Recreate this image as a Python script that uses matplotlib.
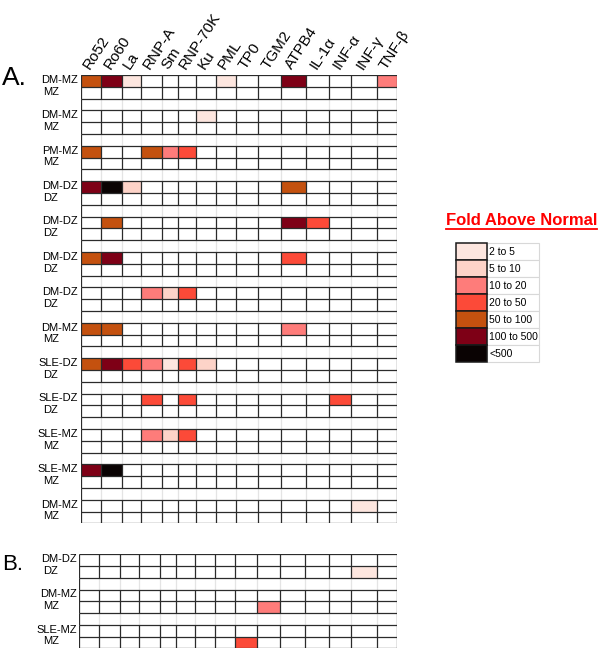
import matplotlib
matplotlib.use("Agg")
import matplotlib.pyplot as plt
import numpy as np
from matplotlib.colors import ListedColormap, BoundaryNorm
from matplotlib.patches import Rectangle
from matplotlib.lines import Line2D
import matplotlib.transforms as mtransforms

plt.rcParams['font.family'] = ['Liberation Sans', 'DejaVu Sans']

# ---------------- data ----------------
antigens = ["Ro52", "Ro60", "La", "RNP-A", "Sm", "RNP-70K", "Ku", "PML", "TP0",
            "TGM2", "ATPB4", "IL-1α", "INF-α", "INF-γ", "TNF-β"]

fold_labels = ["2 to 5", "5 to 10", "10 to 20", "20 to 50", "50 to 100", "100 to 500", "<500"]
fold_colors = ["#fde6df", "#fdd3c8", "#fe7c7a", "#fc4a38", "#c4510f", "#7e0016", "#0a0303"]

# fold level per antigen: 0 = none, 1 = "2 to 5", ... 7 = "<500"
groups_a = [("DM-MZ", "MZ"), ("DM-MZ", "MZ"), ("PM-MZ", "MZ"), ("DM-DZ", "DZ"),
            ("DM-DZ", "DZ"), ("DM-DZ", "DZ"), ("DM-DZ", "DZ"), ("DM-MZ", "MZ"),
            ("SLE-DZ", "DZ"), ("SLE-DZ", "DZ"), ("SLE-MZ", "MZ"), ("SLE-MZ", "MZ"),
            ("DM-MZ", "MZ")]
a_patient = [
    [5, 6, 1, 0, 0, 0, 0, 1, 0, 0, 6, 0, 0, 0, 3],
    [0, 0, 0, 0, 0, 0, 1, 0, 0, 0, 0, 0, 0, 0, 0],
    [5, 0, 0, 5, 3, 4, 0, 0, 0, 0, 0, 0, 0, 0, 0],
    [6, 7, 2, 0, 0, 0, 0, 0, 0, 0, 5, 0, 0, 0, 0],
    [0, 5, 0, 0, 0, 0, 0, 0, 0, 0, 6, 4, 0, 0, 0],
    [5, 6, 0, 0, 0, 0, 0, 0, 0, 0, 4, 0, 0, 0, 0],
    [0, 0, 0, 3, 2, 4, 0, 0, 0, 0, 0, 0, 0, 0, 0],
    [5, 5, 0, 0, 0, 0, 0, 0, 0, 0, 3, 0, 0, 0, 0],
    [5, 6, 4, 3, 1, 4, 2, 0, 0, 0, 0, 0, 0, 0, 0],
    [0, 0, 0, 4, 0, 4, 0, 0, 0, 0, 0, 0, 4, 0, 0],
    [0, 0, 0, 3, 2, 4, 0, 0, 0, 0, 0, 0, 0, 0, 0],
    [6, 7, 0, 0, 0, 0, 0, 0, 0, 0, 0, 0, 0, 0, 0],
    [0, 0, 0, 0, 0, 0, 0, 0, 0, 0, 0, 0, 0, 1, 0],
]
a_control = [[0] * 15 for _ in range(13)]

groups_b = [("DM-DZ", "DZ"), ("DM-MZ", "MZ"), ("SLE-MZ", "MZ")]
b_patient = [[0] * 15 for _ in range(3)]
b_control = [
    [0, 0, 0, 0, 0, 0, 0, 0, 0, 0, 0, 0, 0, 1, 0],
    [0, 0, 0, 0, 0, 0, 0, 0, 0, 3, 0, 0, 0, 0, 0],
    [0, 0, 0, 0, 0, 0, 0, 0, 4, 0, 0, 0, 0, 0, 0],
]

# ---------------- layout ----------------
W, H = 600, 649
DPI = 100
col_widths = [20, 20.7, 19, 21, 16, 18.3, 20, 20, 21.7, 23.3, 24.7, 23.6, 21.7, 25.7, 20]
DARK = "#2b2b2b"
LIGHT = "#e4e4e4"
LW = 0.9

cmap = ListedColormap(["white"] + fold_colors)
norm = BoundaryNorm(np.arange(-0.5, len(fold_colors) + 1.5), cmap.N)

fig = plt.figure(figsize=(W / DPI, H / DPI), dpi=DPI)


def px_axes(left, top, right, bottom):
    return fig.add_axes([left / W, 1 - bottom / H, (right - left) / W, (bottom - top) / H])


def draw_panel(ax, groups, patient, control, lab1_dx, lab2_dx, headers):
    x_edges = np.concatenate([[0], np.cumsum(col_widths)])
    n = len(groups)
    nrows = 3 * n - 1
    mat = np.zeros((nrows, len(col_widths)))
    for g in range(n):
        mat[3 * g] = patient[g]
        mat[3 * g + 1] = control[g]
    y_edges = np.arange(nrows + 1)
    ax.pcolormesh(x_edges, y_edges, mat, cmap=cmap, norm=norm)
    ax.set_xlim(0, x_edges[-1])
    ax.set_ylim(nrows, 0)
    ax.axis("off")
    xr = x_edges[-1]
    for g in range(n):
        y0 = 3 * g
        if g < n - 1:
            ax.vlines(x_edges[1:-1], y0 + 2, y0 + 3, color=LIGHT, lw=LW)
            ax.vlines([0, xr], y0 + 2, y0 + 3, color=DARK, lw=LW)
        ax.hlines([y0, y0 + 1, y0 + 2], 0, xr, color=DARK, lw=LW)
        ax.vlines(x_edges, y0, y0 + 2, color=DARK, lw=LW)

    blend = mtransforms.blended_transform_factory(ax.transAxes, ax.transData)
    t1 = mtransforms.offset_copy(blend, fig=fig, x=lab1_dx, y=1, units="dots")
    t2 = mtransforms.offset_copy(blend, fig=fig, x=lab2_dx, y=1, units="dots")
    for g, (l1, l2) in enumerate(groups):
        ax.text(0, 3 * g + 0.5, l1, transform=t1, ha="right", va="center", fontsize=8)
        ax.text(0, 3 * g + 1.5, l2, transform=t2, ha="left", va="center", fontsize=8)

    if headers:
        th = mtransforms.offset_copy(ax.transData, fig=fig, x=-1, y=5, units="dots")
        centers = (x_edges[:-1] + x_edges[1:]) / 2
        for c, lab in zip(centers, antigens):
            ax.text(c, 0, lab, transform=th, rotation=57, rotation_mode="anchor",
                    ha="left", va="baseline", fontsize=11)


ax_a = px_axes(81, 75, 396.7, 523.3)
draw_panel(ax_a, groups_a, a_patient, a_control, -3, -38, True)

ax_b = px_axes(79, 554.3, 396.7, 648.3)
draw_panel(ax_b, groups_b, b_patient, b_control, -2, -36, False)

fig.text(2 / W, 1 - 85 / H, "A.", fontsize=19, va="baseline", ha="left")
fig.text(2 / W, 1 - 570 / H, "B.", fontsize=16, va="baseline", ha="left")

# ---------------- legend ----------------
title = fig.text(446 / W, 1 - 225 / H, "Fold Above Normal", color="red",
                 fontweight="bold", fontsize=12, va="baseline", ha="left")
renderer = fig.canvas.get_renderer()
bb = title.get_window_extent(renderer=renderer)
fig.add_artist(Line2D([bb.x0 / W, bb.x1 / W], [(bb.y0 - 1.0) / H] * 2,
                      transform=fig.transFigure, color="red", lw=1.3))

ax_l = px_axes(456, 243.3, 539.3, 362.3)
ax_l.set_xlim(0, 83.3)
ax_l.set_ylim(len(fold_labels), 0)
ax_l.axis("off")
sw = 31
for i, (lab, col) in enumerate(zip(fold_labels, fold_colors)):
    ax_l.add_patch(Rectangle((sw, i), 83.3 - sw, 1, facecolor="white",
                             edgecolor="#d8d8d8", lw=0.8, clip_on=False))
for i, (lab, col) in enumerate(zip(fold_labels, fold_colors)):
    ax_l.add_patch(Rectangle((0, i), sw, 1, facecolor=col, edgecolor="#1a1a1a",
                             lw=1.1, clip_on=False))
    ax_l.text(sw + 2, i + 0.5, lab, ha="left", va="center", fontsize=7.5)

fig.savefig("out.png", dpi=DPI)
